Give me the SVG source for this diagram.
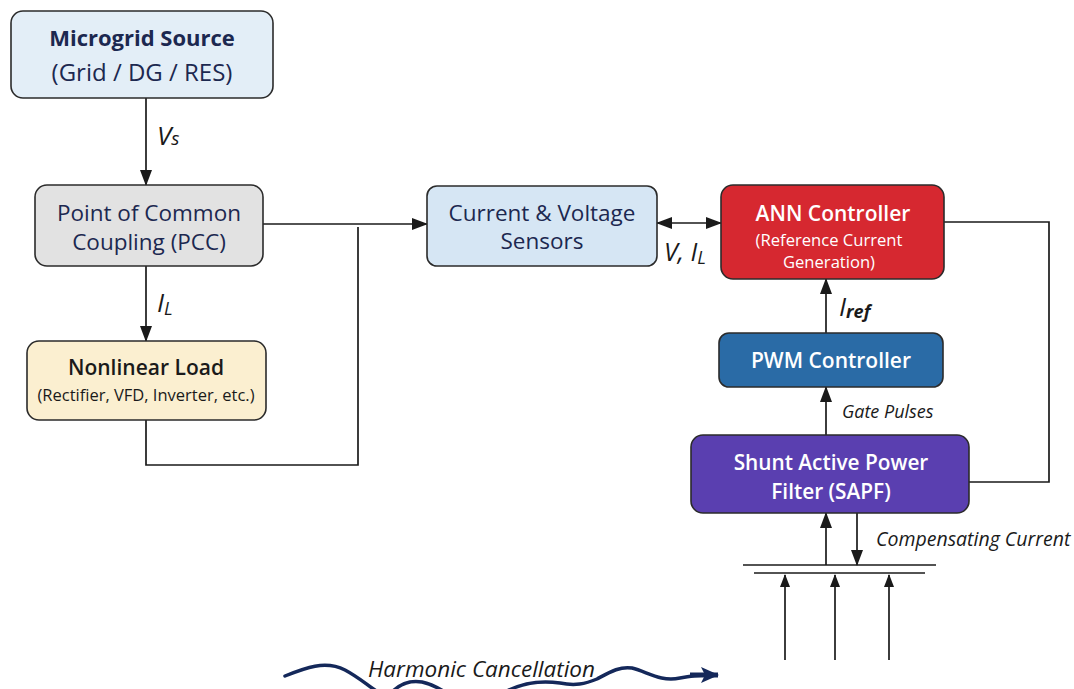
<svg xmlns="http://www.w3.org/2000/svg" width="1074" height="689" viewBox="0 0 1074 689">
<style>
.box{stroke:#2b2b2b;stroke-width:1.6}
.t{font-family:"Open Sans","Noto Sans",sans-serif;text-anchor:middle;font-weight:500}
.b{font-weight:700}
.sb{font-weight:600}
.dark{fill:#1c2850}
.white{fill:#ffffff}
.lbl{font-family:"Open Sans","Noto Sans",sans-serif;font-style:italic;fill:#1a1a1a;font-weight:500}
.ln{stroke:#1a1a1a;stroke-width:1.7;fill:none}
.wv{stroke:#14285a;stroke-width:3.5;fill:none;stroke-linecap:round}
</style>
<defs>
<marker id="ah" viewBox="0 0 16 12" refX="15" refY="6" markerWidth="16" markerHeight="12" markerUnits="userSpaceOnUse" orient="auto-start-reverse">
<path d="M0,0 L16,6 L0,12 Z" fill="#1a1a1a"/>
</marker>
<marker id="ahs" viewBox="0 0 13 10" refX="12" refY="5" markerWidth="13" markerHeight="10" markerUnits="userSpaceOnUse" orient="auto">
<path d="M0,0 L13,5 L0,10 Z" fill="#1a1a1a"/>
</marker>
<marker id="wah" viewBox="0 0 18 16" refX="17" refY="8" markerWidth="18" markerHeight="16" markerUnits="userSpaceOnUse" orient="auto">
<path d="M0,0 L18,8 L0,16 L4,8 Z" fill="#14285a"/>
</marker>
</defs>
<rect width="1074" height="689" fill="#ffffff"/>

<g id="connectors">
<line class="ln" x1="146" y1="98" x2="146" y2="185" marker-end="url(#ah)"/>
<line class="ln" x1="146" y1="266" x2="146" y2="341" marker-end="url(#ah)"/>
<line class="ln" x1="263" y1="224" x2="427" y2="224" marker-end="url(#ah)"/>
<polyline class="ln" points="146,420 146,465 358,465 358,227"/>
<line class="ln" x1="657" y1="223" x2="721" y2="223" marker-start="url(#ah)" marker-end="url(#ah)"/>
<polyline class="ln" points="944,222 1049,222 1049,482 944,482" marker-end="url(#ah)"/>
<line class="ln" x1="826" y1="333" x2="826" y2="279" marker-end="url(#ah)"/>
<line class="ln" x1="826" y1="435" x2="826" y2="387" marker-end="url(#ah)"/>
<line class="ln" x1="826" y1="565" x2="826" y2="513" marker-end="url(#ah)"/>
<line class="ln" x1="857" y1="513" x2="857" y2="565" marker-end="url(#ah)"/>
<line class="ln" x1="743" y1="565" x2="936" y2="565" stroke-width="2.2"/>
<line class="ln" x1="754" y1="573" x2="925" y2="573" stroke-width="2"/>
<line class="ln" x1="785" y1="660" x2="785" y2="575" marker-end="url(#ahs)"/>
<line class="ln" x1="835" y1="660" x2="835" y2="575" marker-end="url(#ahs)"/>
<line class="ln" x1="889" y1="660" x2="889" y2="575" marker-end="url(#ahs)"/>
<text class="lbl" x="157" y="145" font-size="26">V<tspan font-size="19">s</tspan></text>
<text class="lbl" x="157" y="312" font-size="26">I<tspan font-size="18" dy="3">L</tspan></text>
<text class="lbl" x="664" y="261" font-size="25" font-style="normal">V, <tspan font-style="italic">I</tspan><tspan font-style="italic" font-size="18" dy="3">L</tspan></text>
<text class="lbl" x="839" y="316" font-size="26">I<tspan font-size="18" dy="2" font-weight="bold">ref</tspan></text>
<text class="lbl" x="842" y="418" font-size="18">Gate Pulses</text>
<text class="lbl" x="876" y="546" font-size="19.5">Compensating Current</text>
</g>

<g id="wave">
<path class="wv" d="M285,676 C305,668 325,660 345,670 C360,678 368,686 378,692"/>
<path class="wv" d="M392,692 C400,684 410,680 422,682 C432,684 438,688 445,692"/>
<path class="wv" d="M505,692 C520,684 540,680 560,683 C575,686 585,684 597,679 C610,672 620,666 632,668 C648,672 660,682 680,678 C690,676 700,675 708,675"/>
<path d="M690,675 L718,675" stroke="#14285a" stroke-width="5" fill="none" marker-end="url(#wah)"/>
<text class="lbl" x="368" y="677" font-size="22.5">Harmonic Cancellation</text>
</g>

<g id="microgrid">
<rect class="box" x="11" y="11" width="262" height="87" rx="12" fill="#e3eef7"/>
<text class="t b dark" x="142" y="46" font-size="22">Microgrid Source</text>
<text class="t dark" x="142" y="81" font-size="24">(Grid / DG / RES)</text>
</g>

<g id="pcc">
<rect class="box" x="35" y="185" width="228" height="81" rx="12" fill="#e2e2e2"/>
<text class="t dark" x="149" y="221" font-size="22.5">Point of Common</text>
<text class="t dark" x="149" y="250" font-size="22.5">Coupling (PCC)</text>
</g>

<g id="load">
<rect class="box" x="27" y="341" width="239" height="79" rx="12" fill="#fbefd0"/>
<text class="t sb" fill="#1a1a1a" x="146" y="375" font-size="21">Nonlinear Load</text>
<text class="t" fill="#1a1a1a" x="146" y="401" font-size="16.5">(Rectifier, VFD, Inverter, etc.)</text>
</g>

<g id="sensors">
<rect class="box" x="427" y="186" width="230" height="80" rx="10" fill="#d6e6f4"/>
<text class="t dark" x="542" y="221" font-size="22.5">Current &amp; Voltage</text>
<text class="t dark" x="542" y="249" font-size="22.5">Sensors</text>
</g>

<g id="ann">
<rect class="box" x="721" y="185" width="223" height="94" rx="12" fill="#d62830"/>
<text class="t sb white" x="833" y="221" font-size="21">ANN Controller</text>
<text class="t white" x="829" y="246" font-size="16.6">(Reference Current</text>
<text class="t white" x="829" y="268" font-size="16.6">Generation)</text>
</g>

<g id="pwm">
<rect class="box" x="719" y="333" width="224" height="54" rx="10" fill="#2a6ba6"/>
<text class="t sb white" x="831" y="368" font-size="21">PWM Controller</text>
</g>

<g id="sapf">
<rect class="box" x="691" y="435" width="278" height="78" rx="12" fill="#5a3fb0"/>
<text class="t sb white" x="831" y="470" font-size="20.8">Shunt Active Power</text>
<text class="t sb white" x="831" y="499" font-size="20.8">Filter (SAPF)</text>
</g>
</svg>
